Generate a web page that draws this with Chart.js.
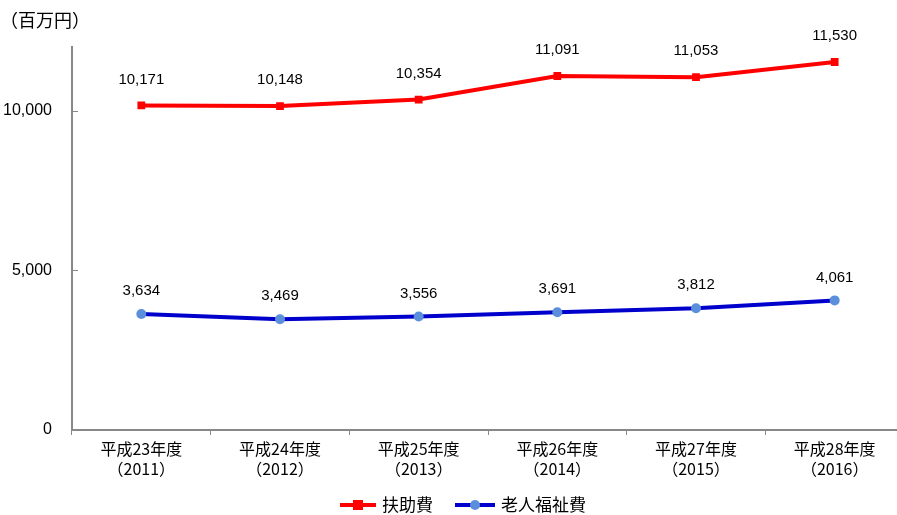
<!DOCTYPE html>
<html><head><meta charset="utf-8">
<script src="https://cdn.jsdelivr.net/npm/chart.js@4"></script>
<style>html,body{margin:0;padding:0;background:#fff;overflow:hidden;width:897px;height:515px}
#wrap{position:relative;width:912px;height:515px}
#c{display:block;width:912px;height:515px}</style>
</head><body><div id="wrap"><canvas id="c" width="912" height="515"></canvas></div>
<script>
const categories = [["平成23年度","（2011）"],["平成24年度","（2012）"],["平成25年度","（2013）"],["平成26年度","（2014）"],["平成27年度","（2015）"],["平成28年度","（2016）"]];
const seriesNames = ["扶助費","老人福祉費"];
const fujohi = [10171,10148,10354,11091,11053,11530];
const rojin = [3634,3469,3556,3691,3812,4061];
const unitLabel = "（百万円）";
const yTicks = [0,5000,10000];

const FONT = '"Liberation Sans","Noto Sans CJK JP",sans-serif';
const JP = '"Noto Sans CJK JP",sans-serif';
const fmt = v => v.toLocaleString('en-US');

const labelsPlugin = {
  id:'labels',
  afterDatasetsDraw(chart){
    const ctx = chart.ctx;
    ctx.save();
    // inside tick marks on y axis
    const ys = chart.scales.y;
    ctx.strokeStyle = '#888'; ctx.lineWidth = 1;
    yTicks.forEach(v=>{
      if (v===0) return;
      const py = Math.round(ys.getPixelForValue(v)) + 0.5;
      ctx.beginPath(); ctx.moveTo(ys.right, py); ctx.lineTo(ys.right+6, py); ctx.stroke();
    });
    ctx.fillStyle = '#000';
    ctx.font = '15px ' + FONT;
    ctx.textAlign = 'center';
    ctx.textBaseline = 'middle';
    chart.data.datasets.forEach((ds,i)=>{
      const meta = chart.getDatasetMeta(i);
      meta.data.forEach((pt,j)=>{
        ctx.fillText(fmt(ds.data[j]), pt.x, pt.y - (i===0?26:23));
      });
    });
    // unit label
    ctx.textAlign='left';
    ctx.font = '18px ' + JP;
    ctx.fillText(unitLabel, 0, 20);
    // legend
    const items = [
      {x:340, w:36, ds:chart.data.datasets[0]},
      {x:455, w:40, ds:chart.data.datasets[1]}
    ];
    const ly = 505;
    items.forEach(it=>{
      const ds = it.ds;
      ctx.strokeStyle = ds.borderColor; ctx.lineWidth = 4;
      ctx.beginPath(); ctx.moveTo(it.x, ly); ctx.lineTo(it.x+it.w, ly); ctx.stroke();
      ctx.fillStyle = ds.pointBackgroundColor;
      const cx = it.x + it.w/2;
      if (ds.pointStyle==='rect'){ ctx.fillRect(cx-5, ly-5, 10, 10); }
      else { ctx.beginPath(); ctx.arc(cx, ly, 5, 0, Math.PI*2); ctx.fill(); }
      ctx.fillStyle = '#000';
      ctx.font = '17px ' + JP;
      ctx.textBaseline='middle';
      ctx.fillText(ds.label, it.x+it.w+6, ly);
    });
    ctx.restore();
  }
};

new Chart(document.getElementById('c'),{
  type:'line',
  data:{
    labels:categories,
    datasets:[
      {label:seriesNames[0], data:fujohi, borderColor:'#FF0000', backgroundColor:'#FF0000', pointBackgroundColor:'#FF0000', pointBorderColor:'#FF0000', borderWidth:4, pointStyle:'rect', pointRadius:5.5, pointBorderWidth:0, tension:0},
      {label:seriesNames[1], data:rojin, borderColor:'#0000CC', backgroundColor:'#5B8FDB', pointBackgroundColor:'#5B8FDB', pointBorderColor:'#5B8FDB', borderWidth:4, pointStyle:'circle', pointRadius:5, pointBorderWidth:0, tension:0}
    ]
  },
  options:{
    responsive:false, animation:false, devicePixelRatio:1,
    layout:{padding:{top:47,left:0,right:8,bottom:35}},
    plugins:{legend:{display:false}, tooltip:{enabled:false}},
    scales:{
      x:{
        offset:true,
        grid:{display:true, offset:true, drawOnChartArea:false, drawTicks:true, tickLength:5, color:'#888', lineWidth:1},
        border:{display:true, color:'#888', width:2},
        ticks:{color:'#000', font:{size:16, family:JP, lineHeight:1.25}, padding:4, maxRotation:0, autoSkip:false},
        afterFit(s){ s.height = 50; }
      },
      y:{
        min:0, max:12000,
        afterBuildTicks(s){ s.ticks = yTicks.map(v=>({value:v})); },
        grid:{display:true, drawOnChartArea:false, drawTicks:false, color:'#888'},
        border:{display:true, color:'#888', width:2},
        ticks:{color:'#000', font:{size:16, family:FONT}, padding:20, callback:v=>fmt(v)},
        afterFit(s){ s.width = 72; }
      }
    }
  },
  plugins:[labelsPlugin]
});
</script></body></html>
